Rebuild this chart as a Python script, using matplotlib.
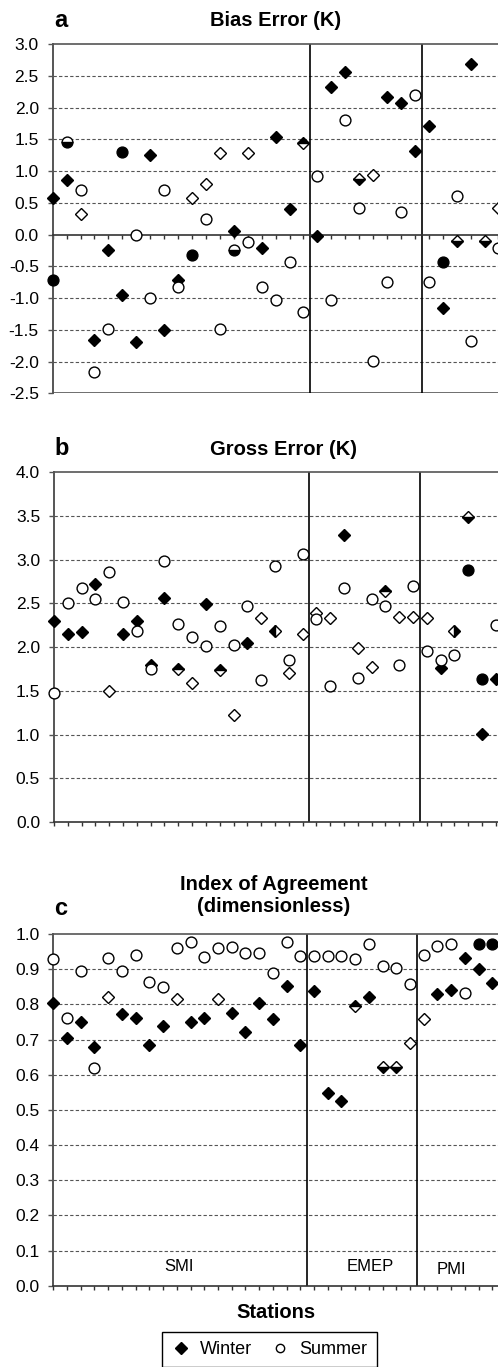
import matplotlib
matplotlib.use("Agg")
import matplotlib.pyplot as plt
from matplotlib.lines import Line2D
from matplotlib.ticker import FormatStrFormatter

plt.rcParams['font.family'] = ['Liberation Sans', 'DejaVu Sans']
plt.rcParams['axes.unicode_minus'] = False

W, H = 498, 1367

# stations 0..32; SMI 0-18, EMEP 19-26, PMI 27-
group_edges = [18.5, 26.5]
group_names = ['SMI', 'EMEP', 'PMI']
group_x = [9.2, 23.1, 29.0]
group_y = [0.042, 0.042, 0.034]

# ---- panel a: bias error (K)
a_fdia_x = [0, 1, 3, 4, 5, 6, 7, 8, 9, 13, 15, 16, 17, 19, 20, 21, 24, 25, 26, 27, 28, 30]
a_fdia_y = [0.58, 0.86, -1.66, -0.24, -0.95, -1.70, 1.25, -1.51, -0.72, 0.05, -0.21, 1.54,
            0.40, -0.02, 2.32, 2.56, 2.17, 2.07, 1.32, 1.71, -1.15, 2.68]
a_ocir_x = [2, 3, 4, 6, 7, 8, 9, 11, 12, 14, 15, 16, 17, 18, 19, 20, 21, 22, 23, 24, 25, 26,
            27, 29, 30, 32]
a_ocir_y = [0.70, -2.17, -1.49, 0.0, -1.0, 0.70, -0.82, 0.24, -1.49, -0.11, -0.82, -1.03,
            -0.43, -1.22, 0.92, -1.03, 1.80, 0.42, -1.99, -0.75, 0.35, 2.19, -0.75, 0.60,
            -1.68, -0.22]
a_fcir_x = [0, 5, 10, 28]
a_fcir_y = [-0.72, 1.30, -0.32, -0.43]
a_odia_x = [2, 10, 11, 12, 14, 23, 32]
a_odia_y = [0.33, 0.58, 0.80, 1.28, 1.29, 0.94, 0.41]
a_hcir_bot_x = [1, 13]
a_hcir_bot_y = [1.46, -0.24]
a_hdia_top_x = [18]
a_hdia_top_y = [1.44]
a_hdia_bot_x = [22, 29, 31]
a_hdia_bot_y = [0.87, -0.10, -0.10]

# ---- panel b: gross error (K)
b_fdia_x = [0, 1, 2, 3, 5, 6, 7, 8, 11, 14, 21, 28, 31, 32]
b_fdia_y = [2.30, 2.15, 2.17, 2.72, 2.15, 2.30, 1.80, 2.56, 2.49, 2.05, 3.28, 1.76, 1.01, 1.63]
b_ocir_x = [0, 1, 2, 3, 4, 5, 6, 7, 8, 9, 10, 11, 12, 13, 14, 15, 16, 17, 18, 19, 20, 21,
            22, 23, 24, 25, 26, 27, 28, 29, 32]
b_ocir_y = [1.47, 2.50, 2.68, 2.55, 2.86, 2.52, 2.19, 1.75, 2.99, 2.27, 2.12, 2.01, 2.24,
            2.03, 2.47, 1.62, 2.93, 1.85, 3.07, 2.32, 1.55, 2.68, 1.65, 2.55, 2.47, 1.80,
            2.70, 1.96, 1.85, 1.91, 2.25]
b_fcir_x = [30, 31]
b_fcir_y = [2.88, 1.64]
b_odia_x = [4, 10, 13, 15, 17, 18, 19, 20, 22, 23, 25, 26, 27]
b_odia_y = [1.50, 1.59, 1.22, 2.33, 1.71, 2.15, 2.39, 2.33, 1.99, 1.77, 2.35, 2.35, 2.33]
b_hdia_top_x = [9, 12, 24]
b_hdia_top_y = [1.75, 1.74, 2.64]
b_hdia_left_x = [16]
b_hdia_left_y = [2.18]
b_hdia_right_x = [29]
b_hdia_right_y = [2.18]
b_hdia_bot_x = [30]
b_hdia_bot_y = [3.49]

# ---- panel c: index of agreement
c_fdia_x = [0, 1, 2, 3, 5, 6, 7, 8, 10, 11, 13, 14, 15, 16, 17, 18, 19, 20, 21, 23, 28, 29,
            30, 31, 32]
c_fdia_y = [0.803, 0.705, 0.751, 0.680, 0.772, 0.762, 0.684, 0.737, 0.751, 0.762, 0.776,
            0.720, 0.803, 0.757, 0.853, 0.684, 0.839, 0.547, 0.526, 0.822, 0.829, 0.841,
            0.931, 0.900, 0.862]
c_ocir_x = list(range(0, 31))
c_ocir_y = [0.928, 0.760, 0.895, 0.618, 0.933, 0.895, 0.940, 0.863, 0.850, 0.959, 0.978,
            0.934, 0.959, 0.964, 0.946, 0.945, 0.888, 0.978, 0.938, 0.938, 0.938, 0.938,
            0.928, 0.972, 0.909, 0.902, 0.857, 0.940, 0.966, 0.972, 0.831]
c_fcir_x = [31, 32]
c_fcir_y = [0.972, 0.972]
c_odia_x = [4, 9, 12, 26, 27]
c_odia_y = [0.822, 0.815, 0.815, 0.689, 0.757]
c_hdia_top_x = [22]
c_hdia_top_y = [0.796]
c_hdia_bot_x = [24, 25]
c_hdia_bot_y = [0.623, 0.623]

DIA = 6.5
CIR = 7.8


def fx(px):
    return px / W


def fy(py):
    return 1 - py / H


def marks(ax, x, y, marker, size, face, fill='full'):
    ax.plot(x, y, ls='none', marker=marker, ms=size, mec='black', mew=1.0,
            mfc=face, fillstyle=fill, markerfacecoloralt='white',
            clip_on=False, zorder=4)


def make_axes(fig, left, top, bottom, spacing, ylo, yhi, step):
    ax = fig.add_axes([fx(left), fy(bottom), 500 / W, (bottom - top) / H])
    ax.set_xlim(0, 500 / spacing)
    ax.set_ylim(ylo, yhi)
    ticks = [round(ylo + i * step, 2) for i in range(int(round((yhi - ylo) / step)) + 1)]
    ax.set_yticks(ticks)
    ax.yaxis.set_major_formatter(FormatStrFormatter('%.1f'))
    ax.set_xticks(range(0, 36))
    ax.set_xticklabels([])
    for t in ticks[1:-1]:
        if abs(t) > 1e-9:
            ax.axhline(t, color='#555555', lw=0.8, ls=(0, (3, 2)), zorder=1)
    for e in group_edges:
        ax.axvline(e, color='black', lw=1.2, zorder=2)
    ax.spines['right'].set_visible(False)
    ax.spines['left'].set_color('#555555')
    ax.spines['left'].set_linewidth(1.4)
    ax.spines['top'].set_color('#555555')
    ax.spines['top'].set_linewidth(1.2)
    ax.spines['bottom'].set_color('#333333')
    ax.spines['bottom'].set_linewidth(1.2)
    ax.tick_params(axis='y', length=3.5, width=1, color='#555555', pad=6.5,
                   labelsize=12.5)
    ax.tick_params(axis='x', length=3, width=1, color='#333333', direction='out')
    return ax


fig = plt.figure(figsize=(W / 100, H / 100), dpi=100)

# panel a
ax = make_axes(fig, 52.7, 44, 393.3, 13.93, -2.5, 3.0, 0.5)
ax.spines['bottom'].set_position(('data', 0))
ax.axhline(-2.5, color='#555555', lw=1.2, zorder=1)
marks(ax, a_fdia_x, a_fdia_y, 'D', DIA, 'black')
marks(ax, a_odia_x, a_odia_y, 'D', DIA, 'white')
marks(ax, a_hdia_top_x, a_hdia_top_y, 'D', DIA, 'black', 'top')
marks(ax, a_hdia_bot_x, a_hdia_bot_y, 'D', DIA, 'black', 'bottom')
marks(ax, a_ocir_x, a_ocir_y, 'o', CIR, 'white')
marks(ax, a_fcir_x, a_fcir_y, 'o', CIR, 'black')
marks(ax, a_hcir_bot_x, a_hcir_bot_y, 'o', CIR, 'black', 'bottom')
fig.text(fx(54), fy(26.7), 'a', fontsize=17, fontweight='bold', va='baseline')
fig.text(fx(276), fy(25.7), 'Bias Error (K)', fontsize=14.5, fontweight='bold',
         ha='center', va='baseline')

# panel b
ax = make_axes(fig, 54, 472.3, 822, 13.81, 0.0, 4.0, 0.5)
marks(ax, b_fdia_x, b_fdia_y, 'D', DIA, 'black')
marks(ax, b_odia_x, b_odia_y, 'D', DIA, 'white')
marks(ax, b_hdia_top_x, b_hdia_top_y, 'D', DIA, 'black', 'top')
marks(ax, b_hdia_left_x, b_hdia_left_y, 'D', DIA, 'black', 'left')
marks(ax, b_hdia_right_x, b_hdia_right_y, 'D', DIA, 'black', 'right')
marks(ax, b_hdia_bot_x, b_hdia_bot_y, 'D', DIA, 'black', 'bottom')
marks(ax, b_ocir_x, b_ocir_y, 'o', CIR, 'white')
marks(ax, b_fcir_x, b_fcir_y, 'o', CIR, 'black')
fig.text(fx(54), fy(455), 'b', fontsize=17, fontweight='bold', va='baseline')
fig.text(fx(283), fy(455), 'Gross Error (K)', fontsize=14.5, fontweight='bold',
         ha='center', va='baseline')

# panel c
ax = make_axes(fig, 53.3, 934, 1285.7, 13.72, 0.0, 1.0, 0.1)
marks(ax, c_fdia_x, c_fdia_y, 'D', DIA, 'black')
marks(ax, c_odia_x, c_odia_y, 'D', DIA, 'white')
marks(ax, c_hdia_top_x, c_hdia_top_y, 'D', DIA, 'black', 'top')
marks(ax, c_hdia_bot_x, c_hdia_bot_y, 'D', DIA, 'black', 'bottom')
marks(ax, c_ocir_x, c_ocir_y, 'o', CIR, 'white')
marks(ax, c_fcir_x, c_fcir_y, 'o', CIR, 'black')
for name, gx, gy in zip(group_names, group_x, group_y):
    ax.text(gx, gy, name, fontsize=12, ha='center', va='baseline')
fig.text(fx(54.3), fy(915), 'c', fontsize=17, fontweight='bold', va='baseline')
fig.text(fx(274), fy(911.7), 'Index of Agreement\n(dimensionless)', fontsize=14.5,
         fontweight='bold', ha='center', va='baseline', linespacing=1.2)
fig.text(fx(276), fy(1318.3), 'Stations', fontsize=14.5, fontweight='bold',
         ha='center', va='baseline')

handles = [Line2D([], [], ls='none', marker='D', ms=6.5, mfc='black', mec='black'),
           Line2D([], [], ls='none', marker='o', ms=6, mfc='white', mec='black', mew=1.0)]
leg = fig.legend(handles, ['Winter', 'Summer'], loc='upper center',
                 bbox_to_anchor=(fx(269.5), fy(1332.3)), ncol=2, frameon=True,
                 fancybox=False, edgecolor='black', framealpha=1, fontsize=13,
                 handlelength=1.0, handletextpad=0.6, columnspacing=1.0,
                 borderpad=0.5, borderaxespad=0)
leg.get_frame().set_linewidth(1.0)

fig.savefig('out.png', dpi=100)
